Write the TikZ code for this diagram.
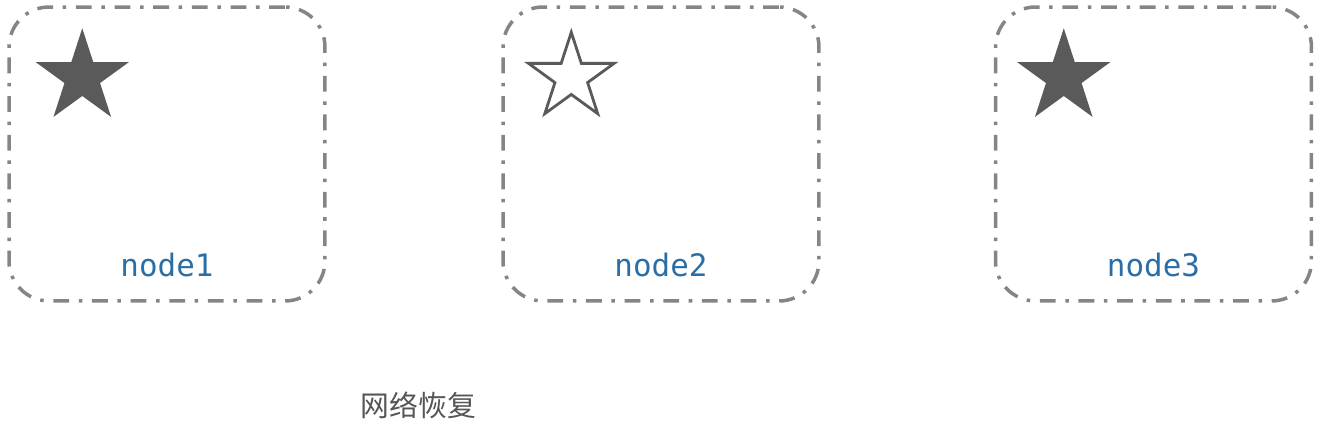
\documentclass[tikz,border=0pt]{standalone}
\usepackage{fontspec}
\setmonofont{DejaVu Sans Mono}
\newfontfamily\cjk{Noto Sans CJK SC}
\usepackage{xcolor}
\usepackage{tikz}
\usetikzlibrary{positioning,shapes.geometric}

\definecolor{framegray}{HTML}{858585}
\definecolor{stargray}{HTML}{5A5A5A}
\definecolor{labelblue}{HTML}{2B6EA6}
\definecolor{textgray}{HTML}{555555}

\begin{document}
\begin{tikzpicture}[
    x=0.02cm, y=0.02cm,
    hostbox/.style={draw=framegray, line width=2pt, rounded corners=0.8cm,
        dash pattern=on 9pt off 5.5pt on 2pt off 5.5pt,
        minimum width=6.32cm, minimum height=5.88cm, inner sep=0pt},
    starfull/.style={star, star points=5, star point ratio=2.618, fill=stargray,
        draw=none, minimum size=1.96cm, inner sep=0pt},
    starhollow/.style={star, star points=5, star point ratio=2.618, draw=stargray,
        line width=1.6pt, fill=white, minimum size=1.80cm, inner sep=0pt},
    hostlabel/.style={font=\ttfamily\fontsize{17.6}{20}\selectfont, text=labelblue, anchor=base},
]
\useasboundingbox (0,0) rectangle (1323,426);

% =====================================================================
% Three hosts: dash-dotted frame, star marker, name
% =====================================================================
\foreach \i/\px/\sx/\kind in {1/167/75/starfull, 2/661/70/starhollow, 3/1153.5/70/starfull} {
    \node[hostbox] (box\i) at (\px,272) {};
    \node[\kind] (star\i) at ([shift={(\sx,-72)}]box\i.north west) {};
    \node[hostlabel] (label\i) at ([shift={(0,26)}]box\i.south) {node\i};
}

% Caption below the hosts
\node[font=\cjk\fontsize{16.4}{18}\selectfont, text=textgray] (caption) at (418.5,21) {网络恢复};

\end{tikzpicture}
\end{document}
